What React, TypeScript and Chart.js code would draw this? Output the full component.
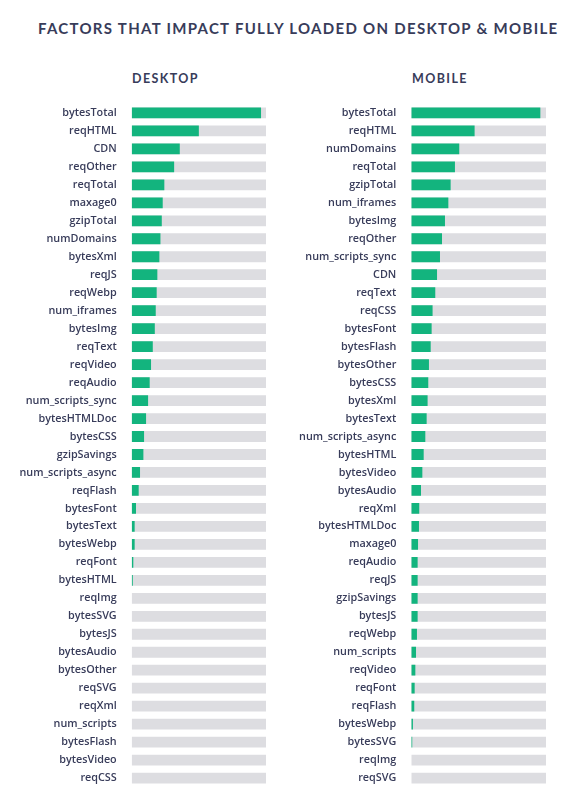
import React, { useRef, useEffect } from 'react';
import { Chart, registerables } from 'chart.js';

Chart.register(...registerables);

// share of impact (track = 1)
const desktopLabels = [
  'bytesTotal', 'reqHTML', 'CDN', 'reqOther', 'reqTotal', 'maxage0', 'gzipTotal',
  'numDomains', 'bytesXml', 'reqJS', 'reqWebp', 'num_iframes', 'bytesImg', 'reqText',
  'reqVideo', 'reqAudio', 'num_scripts_sync', 'bytesHTMLDoc', 'bytesCSS', 'gzipSavings',
  'num_scripts_async', 'reqFlash', 'bytesFont', 'bytesText', 'bytesWebp', 'reqFont',
  'bytesHTML', 'reqImg', 'bytesSVG', 'bytesJS', 'bytesAudio', 'bytesOther', 'reqSVG',
  'reqXml', 'num_scripts', 'bytesFlash', 'bytesVideo', 'reqCSS',
];
const desktopValues = [
  0.963, 0.5, 0.358, 0.316, 0.243, 0.231, 0.224, 0.214, 0.206, 0.191, 0.186, 0.179,
  0.172, 0.157, 0.144, 0.134, 0.122, 0.107, 0.092, 0.087, 0.062, 0.052, 0.032, 0.022,
  0.022, 0.012, 0.008, 0, 0, 0, 0, 0, 0, 0, 0, 0, 0, 0,
];

const mobileLabels = [
  'bytesTotal', 'reqHTML', 'numDomains', 'reqTotal', 'gzipTotal', 'num_iframes',
  'bytesImg', 'reqOther', 'num_scripts_sync', 'CDN', 'reqText', 'reqCSS', 'bytesFont',
  'bytesFlash', 'bytesOther', 'bytesCSS', 'bytesXml', 'bytesText', 'num_scripts_async',
  'bytesHTML', 'bytesVideo', 'bytesAudio', 'reqXml', 'bytesHTMLDoc', 'maxage0',
  'reqAudio', 'reqJS', 'gzipSavings', 'bytesJS', 'reqWebp', 'num_scripts', 'reqVideo',
  'reqFont', 'reqFlash', 'bytesWebp', 'bytesSVG', 'reqImg', 'reqSVG',
];
const mobileValues = [
  0.958, 0.47, 0.356, 0.324, 0.292, 0.275, 0.25, 0.228, 0.213, 0.191, 0.178, 0.158,
  0.151, 0.144, 0.131, 0.126, 0.121, 0.114, 0.104, 0.092, 0.082, 0.072, 0.059, 0.057,
  0.05, 0.047, 0.047, 0.047, 0.047, 0.042, 0.035, 0.03, 0.025, 0.022, 0.012, 0.007,
  0, 0,
];

const GREEN = '#13b47e';
const TRACK = '#dddde1';
const INK = '#383c5a';
const FONT = 'Lato, "Noto Sans", sans-serif';
const LABEL_FONT = '"Open Sans", "Noto Sans", sans-serif';

interface PanelProps {
  labels: string[];
  values: number[];
  axisWidth: number;
}

const FactorPanel: React.FC<PanelProps> = ({ labels, values, axisWidth }) => {
  const canvasRef = useRef<HTMLCanvasElement>(null);

  useEffect(() => {
    if (!canvasRef.current) return;
    const chart = new Chart(canvasRef.current, {
      type: 'bar',
      data: {
        labels,
        datasets: [
          {
            data: values,
            backgroundColor: GREEN,
            grouped: false,
            order: 0,
            barPercentage: 0.6,
            categoryPercentage: 1,
          },
          {
            data: labels.map(() => 1),
            backgroundColor: TRACK,
            grouped: false,
            order: 1,
            barPercentage: 0.6,
            categoryPercentage: 1,
          },
        ],
      },
      options: {
        indexAxis: 'y',
        responsive: false,
        maintainAspectRatio: false,
        animation: false,
        layout: { padding: 0 },
        plugins: {
          legend: { display: false },
          tooltip: { enabled: false },
        },
        scales: {
          x: { display: false, min: 0, max: 1 },
          y: {
            grid: { display: false, drawTicks: false },
            border: { display: false },
            ticks: {
              color: INK,
              padding: 15,
              autoSkip: false,
              font: { family: LABEL_FONT, size: 10.8, weight: 600, lineHeight: 1.1 },
            },
            afterFit: (scale) => {
              scale.width = axisWidth;
            },
          },
        },
      },
    });
    return () => chart.destroy();
  }, [labels, values, axisWidth]);

  return <canvas ref={canvasRef} width={axisWidth + 135} height={725} />;
};

const heading: React.CSSProperties = {
  position: 'absolute',
  margin: 0,
  fontFamily: FONT,
  fontWeight: 'bold',
  color: INK,
  whiteSpace: 'nowrap',
  lineHeight: 1,
};

export default function App() {
  return (
    <div style={{ position: 'absolute', left: 0, top: 0, width: 567, height: 798, background: '#fff' }}>
      <div style={{ ...heading, left: 38, top: 21, fontSize: 15, letterSpacing: 1.3 }}>
        FACTORS THAT IMPACT FULLY LOADED ON DESKTOP &amp; MOBILE
      </div>
      <div style={{ ...heading, left: 132, top: 73, fontSize: 12.5, letterSpacing: 1.4 }}>DESKTOP</div>
      <div style={{ ...heading, left: 412, top: 73, fontSize: 12.5, letterSpacing: 1.4 }}>MOBILE</div>
      <div style={{ position: 'absolute', left: 0, top: 83 }}>
        <FactorPanel labels={desktopLabels} values={desktopValues} axisWidth={131.7} />
      </div>
      <div style={{ position: 'absolute', left: 280, top: 83 }}>
        <FactorPanel labels={mobileLabels} values={mobileValues} axisWidth={131.3} />
      </div>
    </div>
  );
}
